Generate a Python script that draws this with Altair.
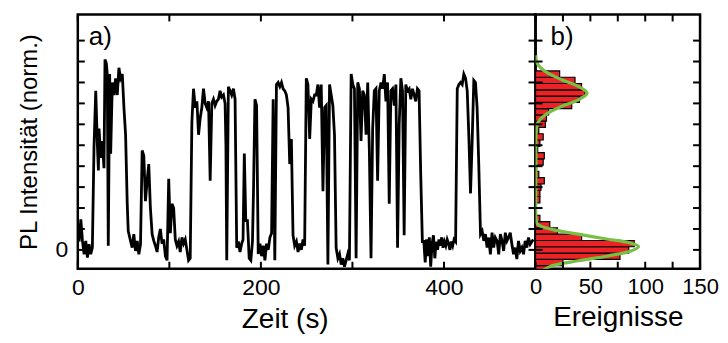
import altair as alt
import pandas as pd

# ---------------- time trace (t in s, normalized PL intensity) ----------------
seg_low_start = [(0, .076), (1.5, .04), (3.3, .146), (5.1, .043), (6.9, -.021), (8.7, .043),
                 (10.5, -.037), (12.3, .027), (14.1, -.021), (15.9, .011)]
seg_burst_1 = [(17.7, .49), (19.6, .76), (21.4, .50), (22.5, .38), (23.2, .58), (25.0, .44),
               (26.8, .52), (28.6, .39), (29.7, .91), (31.2, .89), (32.2, .84), (33.3, .02),
               (34.8, .84), (35.9, .46), (37.7, .80), (39.5, .74), (41.3, .82), (43.1, .74),
               (44.9, .87), (46.7, .82), (48.6, .84), (50.4, .68), (52.2, .55), (54.0, .22),
               (55.1, .09)]
seg_low_1 = [(57.6, .043), (59.4, .011), (61.2, .075), (63.0, -.005), (64.9, .043), (66.7, -.021),
             (68.5, .027), (70.3, .475), (72.1, .45), (73.9, .233), (75.7, .33), (77.5, .41),
             (79.3, .2), (81.2, .075), (83.0, .043), (84.8, .02), (86.6, -.01), (88.4, .06),
             (90.2, .10), (92.0, .03), (93.8, .05), (95.7, -.03), (97.5, -.05), (99.3, .34),
             (101.1, .08), (102.9, .22), (104.7, .20), (106.5, .05), (108.3, .02), (110.1, .04),
             (111.9, -.01), (113.8, .06), (115.6, .03), (117.4, .05), (119.2, .00), (121.0, -.05),
             (122.8, -.04)]
seg_burst_2 = [(124.6, .61), (126.4, .77), (128.3, .68), (130.1, .71), (131.9, .55), (133.7, .63),
               (135.5, .68), (137.3, .77), (139.1, .70), (140.9, .68), (142.8, .71), (144.6, .33),
               (146.4, .70), (148.2, .72), (150.0, .69), (151.8, .71), (153.6, .72), (155.4, .76),
               (157.2, .73), (159.1, .74), (160.9, .70), (161.8, .50), (162.7, -.05), (164.5, .78),
               (166.3, .76), (168.1, .74), (170.0, .77), (171.8, .72)]
seg_mixed = [(173.6, .01), (175.4, .04), (177.2, -.01), (179.0, .03), (180.5, .05), (181.9, .46),
             (183.5, .14), (185.3, .14), (187.2, -.04), (189.0, -.05), (190.8, .04), (192.0, .30),
             (193.5, .72), (195.3, .69), (197.1, -.02), (199.0, .03), (200.8, -.03), (202.6, .02),
             (204.4, -.05), (206.2, .03), (208.0, .00), (209.9, .06), (211.7, .08), (213.4, .72),
             (215.2, -.05), (217.0, .79), (218.8, .80), (220.7, .78), (222.5, .80), (224.3, .77),
             (226.1, .76), (227.9, .74), (229.7, .68), (231.5, .41), (233.3, .53), (235.1, .07),
             (236.9, .02), (238.8, .04), (240.6, -.01), (242.4, .03), (244.2, .00), (246.0, .05),
             (247.8, .02)]
seg_burst_3 = [(249.6, .82), (251.4, .79), (253.3, .53), (255.1, .72), (256.9, .71), (258.7, .74),
               (260.5, .74), (262.3, .79), (264.1, .68), (265.9, .79), (267.8, .28), (269.6, .68),
               (271.4, .69), (273.2, -.07), (275.0, .79), (276.8, .74), (278.6, .69), (280.4, .55),
               (282.2, .01), (284.1, -.04), (285.9, -.02), (287.7, -.07), (289.5, -.04), (291.3, -.08),
               (293.1, -.05), (294.9, -.02), (296.7, -.05), (298.6, .84), (300.4, .79), (302.2, .77),
               (304.0, -.04), (305.8, .80), (307.6, .77), (309.4, .52), (311.2, .76), (313.0, .74),
               (314.9, .55), (316.7, .80), (318.5, .47), (320.3, -.04), (322.1, .58), (323.9, .76),
               (325.7, .77), (327.5, .33), (329.3, .76), (331.2, .80), (333.0, .77), (334.8, .84),
               (336.6, .71), (338.4, .80), (340.2, .22), (342.0, .76), (343.8, .77), (345.7, .69),
               (347.5, .79), (349.3, .01), (351.1, .60), (352.9, .82), (354.7, .76), (356.5, .07),
               (358.3, .79), (360.1, .76), (362.0, .77), (363.8, .72), (365.6, .77), (367.4, .74),
               (369.2, .71), (371.0, .77), (372.8, .76), (374.6, .36), (376.4, .04)]
seg_low_2 = [(378.0, .04), (379.5, -.06), (381.0, .05), (382.5, -.03), (384.0, .06), (385.5, -.08),
             (387.0, .03), (388.5, .07), (390.0, -.04), (391.5, .04), (393.0, .00), (394.5, .05),
             (396.0, .02), (397.5, .06), (399.0, .01), (400.5, .04), (402.0, .02), (403.5, .05),
             (405.0, .03), (406.5, .00), (408.0, .04), (409.5, .02), (411.0, .05), (412.7, .04)]
seg_burst_4 = [(414.5, .77), (416.3, .79), (418.1, .80), (419.9, .79), (421.7, .84), (423.6, .82),
               (425.4, .76), (427.2, .54), (429.0, .27), (430.8, .52), (432.6, .81), (434.4, .80),
               (436.2, .68), (438.0, .41), (439.9, .075)]
seg_low_end = [(441.7, .09), (443.5, .043), (445.3, .075), (447.1, .011), (448.9, .059), (450.7, -.021),
               (452.5, .082), (454.3, .011), (456.1, .059), (458.0, .043), (459.8, -.021), (461.6, .075),
               (463.4, .043), (465.2, -.005), (467.0, .082), (468.8, .043), (470.6, .059), (472.4, .082),
               (474.2, .027), (476.0, -.021), (477.8, .011), (479.6, -.044), (481.4, .043), (483.3, -.005),
               (485.1, .011), (486.9, -.021), (488.7, .043), (490.5, .011), (492.3, .059), (494.2, .027),
               (497.5, .05)]

trace = (seg_low_start + seg_burst_1 + seg_low_1 + seg_burst_2 + seg_mixed + seg_burst_3
         + seg_low_2 + seg_burst_4 + seg_low_end)
time_s = [p[0] for p in trace]
intensity = [p[1] for p in trace]

# ---------------- histogram of intensities (events per bin) ----------------
bin_low = [-0.105, -0.075, -0.045, -0.015, 0.015, 0.045, 0.075, 0.105, 0.135, 0.165, 0.195,
           0.225, 0.255, 0.285, 0.315, 0.345, 0.375, 0.405, 0.435, 0.465, 0.495, 0.525,
           0.555, 0.585, 0.615, 0.645, 0.675, 0.705, 0.735, 0.765, 0.795, 0.825]
bin_width = 0.03
events = [12, 25, 77, 85, 90, 42, 20, 13, 4, 0, 0, 4, 4, 5, 8, 3, 1, 7, 8, 2, 4, 7, 3, 9,
          10, 12, 33, 40, 45, 42, 36, 22]

# ---------------- double Gaussian fit ----------------
fit_v = [-0.1, -0.076, -0.052, -0.029, -0.005, 0.016, 0.035, 0.051, 0.075, 0.098, 0.122,
         0.15, 0.3, 0.45, 0.56, 0.606, 0.646, 0.686, 0.717, 0.749, 0.781, 0.813, 0.852,
         0.892, 0.93]
fit_n = [6, 15, 39, 66, 87, 94, 85, 66, 39, 15, 2, 0.5, 0.3, 0.3, 0.6, 2, 9, 24, 39, 47, 39,
         24, 9, 1.5, 0.3]

# ---------------- axes ----------------
xa_ticks = [0, 100, 200, 300, 400, 500]
xa_labels = [0, 200, 400]
xb_ticks = [0, 25, 50, 75, 100, 125, 150]
xb_labels = [0, 50, 100, 150]
y_ticks = [0, 0.1, 0.2, 0.3, 0.4, 0.5, 0.6, 0.7, 0.8, 0.9, 1.0]
y_labels = [0]
panel_labels = ["a)", "b)"]

FONT = "Liberation Sans"
RED = "#ec2227"
GREEN = "#77c043"
W_A, W_B, H = 459, 165, 255
TICK = 7

y_scale = alt.Scale(domain=[-0.09, 1.125], nice=False, zero=False)
xa_scale = alt.Scale(domain=[0, 500], nice=False, zero=False)
xb_scale = alt.Scale(domain=[0, 150], nice=False, zero=False)


def axis(**kw):
    base = dict(ticks=False, domain=False, grid=False, labelFlush=False, labelOverlap=False,
                labelFont=FONT, titleFont=FONT, labelFontSize=23, titleFontSize=28,
                titleFontWeight="normal", labelColor="black", titleColor="black", format="d")
    base.update(kw)
    return alt.Axis(**base)


xa_axis = axis(values=xa_labels, title="Zeit (s)", labelPadding=8, titlePadding=6,
               titleX=W_A / 2 - 22)
ya_axis = axis(values=y_labels, title="PL Intensität (norm.)", labelPadding=10,
               titlePadding=14, titleFontSize=24)
xb_axis = axis(values=xb_labels, title="Ereignisse", labelPadding=8, titlePadding=6,
               labelFontSize=22)

trace_df = pd.DataFrame({"t": time_s, "v": intensity})
hist_df = pd.DataFrame({"lo": bin_low, "hi": [b + bin_width for b in bin_low], "n": events})
fit_df = pd.DataFrame({"v": fit_v, "n": fit_n})
xa_df = pd.DataFrame({"t": xa_ticks})
xb_df = pd.DataFrame({"n": xb_ticks})
y_df = pd.DataFrame({"v": y_ticks})


def tick_layers(x_df, x_field, x_scale, x_axis, y_axis, width):
    xs = alt.X(f"{x_field}:Q", scale=x_scale, axis=x_axis)
    ys = alt.Y("v:Q", scale=y_scale, axis=y_axis)
    rule = dict(color="black", strokeWidth=2)
    return [
        alt.Chart(x_df).mark_rule(**rule).encode(x=xs, y=alt.value(H), y2=alt.value(H - TICK)),
        alt.Chart(x_df).mark_rule(**rule).encode(x=xs, y=alt.value(0), y2=alt.value(TICK)),
        alt.Chart(y_df).mark_rule(**rule).encode(y=ys, x=alt.value(0), x2=alt.value(TICK)),
        alt.Chart(y_df).mark_rule(**rule).encode(y=ys, x=alt.value(width - TICK), x2=alt.value(width)),
    ]


def panel_label(text, x):
    return alt.Chart(pd.DataFrame({"label": [text]})).mark_text(
        font=FONT, fontSize=26, align="left", baseline="middle", color="black"
    ).encode(x=alt.value(x), y=alt.value(23), text="label:N")


line = alt.Chart(trace_df).mark_line(color="black", strokeWidth=2.8, clip=True).encode(
    x=alt.X("t:Q", scale=xa_scale, axis=xa_axis),
    y=alt.Y("v:Q", scale=y_scale, axis=ya_axis),
    order="t:Q",
)

left = alt.layer(line, *tick_layers(xa_df, "t", xa_scale, xa_axis, ya_axis, W_A),
                 panel_label(panel_labels[0], 11)).properties(width=W_A, height=H)

bars = alt.Chart(hist_df).mark_rect(fill=RED, stroke="black", strokeWidth=1.2, clip=True).encode(
    x=alt.X("n:Q", scale=xb_scale, axis=xb_axis),
    x2=alt.datum(0),
    y=alt.Y("lo:Q", scale=y_scale, axis=None),
    y2="hi:Q",
)
fit = alt.Chart(fit_df).mark_line(color=GREEN, strokeWidth=3.2, interpolate="catmull-rom",
                                  clip=True).encode(
    x=alt.X("n:Q", scale=xb_scale, axis=xb_axis),
    y=alt.Y("v:Q", scale=y_scale, axis=None),
    order="v:Q",
)

right = alt.layer(bars, fit, *tick_layers(xb_df, "n", xb_scale, xb_axis, None, W_B),
                  panel_label(panel_labels[1], 15)).properties(width=W_B, height=H)

chart = alt.hconcat(left, right, spacing=0, bounds="flush").configure_view(
    stroke="black", strokeWidth=2.5
).properties(padding={"left": 7, "top": 3, "right": 0, "bottom": 0})

chart.save("out.html", embed_options={"renderer": "svg", "actions": False})
